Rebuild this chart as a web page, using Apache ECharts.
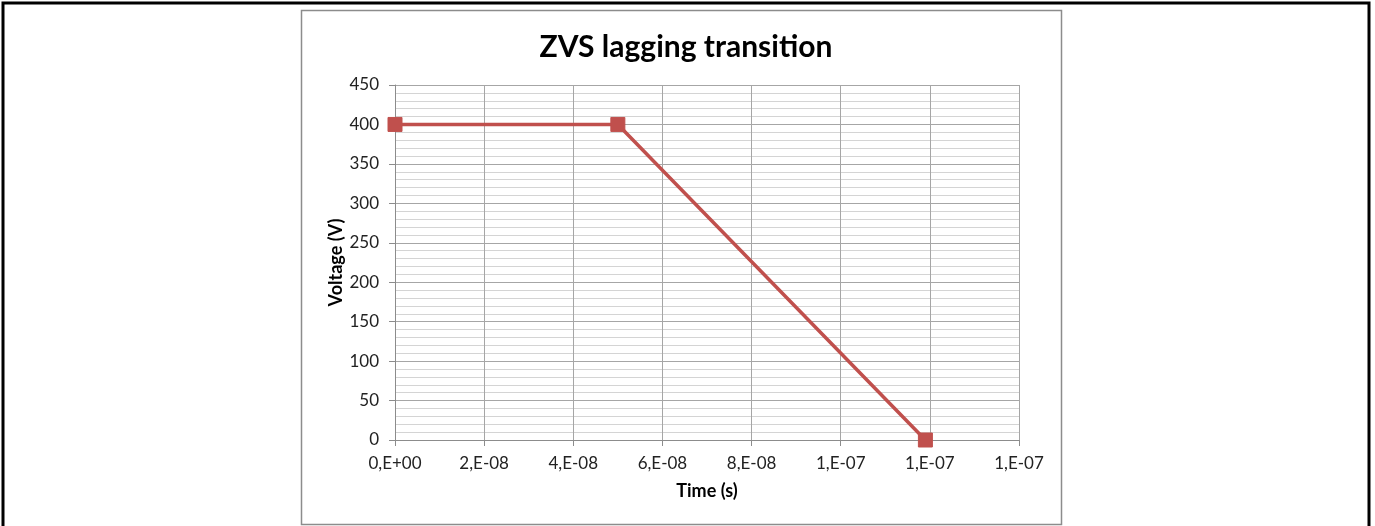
<!DOCTYPE html>
<html>
<head>
<meta charset="utf-8">
<script src="https://cdn.jsdelivr.net/npm/echarts@6/dist/echarts.min.js"></script>
<style>
  html, body { margin: 0; padding: 0; background: #fff; }
  #chart { width: 1375px; height: 526px; }
</style>
</head>
<body>
<div id="chart"></div>
<script>
// Drain-source voltage during the lagging-leg ZVS transition
const timeValues = [0, 5.0e-8, 1.19e-7];
const voltageValues = [400, 400, 0];
const xTickLabels = ['0,E+00', '2,E-08', '4,E-08', '6,E-08', '8,E-08', '1,E-07', '1,E-07', '1,E-07'];
const xStep = 2e-8;

const FONT = 'Lato, "Open Sans", sans-serif';
const chart = echarts.init(document.getElementById('chart'));

chart.setOption({
  animation: false,
  backgroundColor: '#ffffff',
  graphic: [
    { type: 'rect', shape: { x: 3, y: 3, width: 1366, height: 530 }, style: { fill: 'none', stroke: '#000', lineWidth: 3 }, silent: true },
    { type: 'rect', shape: { x: 301.5, y: 10.5, width: 760, height: 514 }, style: { fill: 'none', stroke: '#8c8c8c', lineWidth: 1.5 }, silent: true }
  ],
  title: {
    text: 'ZVS lagging transition',
    left: 681, top: 27, textAlign: 'center',
    textStyle: { fontFamily: FONT, fontWeight: 'bold', fontSize: 30, color: '#000' }
  },
  grid: { left: 395, top: 85, right: 356, bottom: 86 },
  xAxis: {
    type: 'value', min: 0, max: 1.4e-7, interval: xStep,
    name: 'Time (s)', nameLocation: 'middle', nameGap: 42,
    nameTextStyle: { fontFamily: FONT, fontWeight: 'bold', fontSize: 18, color: '#000' },
    axisLine: { show: true, lineStyle: { color: '#8c8c8c', width: 1 } },
    axisTick: { show: true, length: 6, lineStyle: { color: '#8c8c8c' } },
    axisLabel: {
      fontFamily: FONT, fontSize: 17, color: '#222', margin: 15,
      formatter: v => xTickLabels[Math.round(v / xStep)]
    },
    splitLine: { show: true, lineStyle: { color: '#a6a6a6', width: 1 } },
    minorTick: { show: false },
    minorSplitLine: { show: false }
  },
  yAxis: {
    type: 'value', min: 0, max: 450, interval: 50,
    name: 'Voltage (V)', nameLocation: 'middle', nameGap: 50, nameRotate: 90,
    nameTextStyle: { fontFamily: FONT, fontWeight: 'bold', fontSize: 18, color: '#000' },
    axisLine: { show: true, lineStyle: { color: '#8c8c8c', width: 1 } },
    axisTick: { show: true, length: 6, lineStyle: { color: '#8c8c8c' } },
    axisLabel: { fontFamily: FONT, fontSize: 17, color: '#222', margin: 16 },
    splitLine: { show: true, lineStyle: { color: '#a6a6a6', width: 1 } },
    minorTick: { show: true, splitNumber: 5, length: 0 },
    minorSplitLine: { show: true, lineStyle: { color: '#d4d4d4', width: 1 } }
  },
  series: [{
    type: 'line',
    data: timeValues.map((t, i) => [t, voltageValues[i]]),
    symbol: 'rect', symbolSize: 14,
    lineStyle: { color: '#C0504D', width: 3.5 },
    itemStyle: { color: '#C0504D', borderColor: '#C0504D' },
    clip: false
  }]
});
</script>
</body>
</html>
